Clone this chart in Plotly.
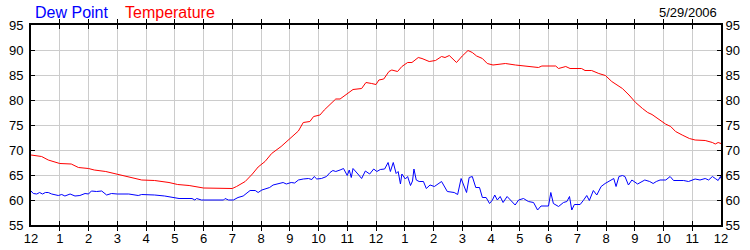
import plotly.graph_objects as go

# Hours since midnight (0 = 12 AM, 24 = next 12 AM) and readings in °F
temp_hours = [0.0, 0.37, 0.6, 1.0, 1.4, 1.65, 2.0, 2.2, 2.6, 3.0, 3.4, 3.85, 4.3, 4.8, 5.1, 5.5,
              6.0, 6.4, 7.0, 7.15, 7.45, 7.7, 7.9, 8.14, 8.37, 8.7, 9.0, 9.3, 9.47, 9.7, 9.83,
              10.05, 10.2, 10.4, 10.6, 10.75, 11.0, 11.2, 11.5, 11.65, 11.85, 12.0, 12.1, 12.27,
              12.45, 12.55, 12.75, 12.9, 13.1, 13.25, 13.47, 13.6, 13.85, 14.07, 14.28, 14.4,
              14.55, 14.8, 15.0, 15.2, 15.35, 15.5, 15.7, 15.87, 16.07, 16.5, 16.85, 17.3,
              17.65, 17.77, 18.25, 18.35, 18.6, 18.75, 19.15, 19.27, 19.5, 19.75, 19.98, 20.2,
              20.45, 20.57, 20.8, 21.03, 21.27, 21.45, 21.6, 21.85, 22.07, 22.25, 22.42, 22.65,
              22.9, 23.1, 23.45, 23.7, 23.8, 23.9, 24.0]
temp_values = [69.0, 68.7, 68.0, 67.3, 67.2, 66.5, 66.3, 66.0, 65.7, 65.2, 64.7, 64.0, 63.9, 63.5,
               63.1, 62.9, 62.4, 62.3, 62.3, 62.7, 63.7, 65.2, 66.6, 67.7, 69.3, 70.7, 72.3,
               73.8, 75.5, 75.7, 76.7, 77.0, 78.0, 79.2, 80.2, 80.2, 81.3, 82.1, 82.3, 83.5,
               83.3, 83.1, 84.0, 84.2, 85.7, 86.0, 85.7, 86.7, 87.5, 87.5, 88.5, 88.3, 87.7,
               87.9, 88.7, 88.5, 88.9, 87.5, 88.8, 89.9, 89.5, 88.8, 88.3, 87.3, 87.0, 87.3,
               87.0, 86.8, 86.5, 86.8, 86.8, 86.3, 86.7, 86.3, 86.3, 85.9, 85.9, 85.3, 84.9,
               83.7, 82.8, 82.3, 81.0, 79.5, 78.3, 77.5, 77.1, 76.1, 75.2, 74.7, 73.7, 73.0,
               72.3, 72.0, 71.9, 71.5, 71.2, 71.5, 71.3]

dew_hours = [0.0, 0.08, 0.2, 0.3, 0.4, 0.5, 0.6, 0.72, 0.95, 1.07, 1.18, 1.36, 1.53, 1.7, 1.88,
             2.0, 2.1, 2.28, 2.46, 2.63, 2.8, 3.0, 3.4, 3.6, 3.73, 3.85, 4.08, 4.3, 4.65, 4.9,
             5.15, 5.6, 5.7, 5.76, 5.93, 6.7, 6.75, 6.87, 7.04, 7.2, 7.38, 7.62, 7.8, 7.9, 8.03,
             8.14, 8.3, 8.42, 8.6, 8.77, 8.88, 9.05, 9.17, 9.3, 9.47, 9.65, 9.77, 9.85, 9.94,
             10.1, 10.28, 10.4, 10.5, 10.6, 10.75, 10.87, 11.0, 11.07, 11.14, 11.2, 11.37, 11.5,
             11.63, 11.78, 11.92, 12.03, 12.15, 12.3, 12.42, 12.5, 12.6, 12.7, 12.77, 12.85,
             12.9, 13.02, 13.1, 13.2, 13.27, 13.32, 13.4, 13.5, 13.65, 13.75, 13.88, 14.03,
             14.28, 14.48, 14.72, 14.84, 14.96, 15.04, 15.15, 15.24, 15.35, 15.47, 15.6, 15.7,
             15.83, 15.95, 16.05, 16.13, 16.22, 16.32, 16.42, 16.56, 16.69, 16.84, 16.96,
             17.13, 17.3, 17.48, 17.62, 17.74, 18.0, 18.08, 18.17, 18.35, 18.52, 18.64, 18.73,
             18.81, 18.9, 19.1, 19.21, 19.33, 19.42, 19.56, 19.68, 19.83, 19.97, 20.1, 20.27,
             20.35, 20.45, 20.57, 20.66, 20.78, 20.9, 21.1, 21.35, 21.52, 21.64, 21.75, 21.88,
             22.08, 22.23, 22.35, 22.7, 22.87, 23.1, 23.27, 23.45, 23.57, 23.7, 23.8, 23.9,
             23.98, 24.0]
dew_values = [61.8, 61.3, 61.2, 61.5, 61.2, 61.5, 61.5, 61.2, 60.9, 61.1, 60.8, 61.2, 60.8, 60.9,
              61.3, 61.2, 61.8, 61.7, 61.8, 61.0, 61.3, 61.2, 61.2, 61.0, 60.9, 61.1, 61.1, 61.0,
              60.8, 60.5, 60.3, 60.3, 60.0, 60.3, 60.0, 60.0, 60.3, 60.0, 60.0, 60.5, 60.8, 61.9,
              61.9, 61.5, 62.0, 62.2, 62.5, 63.0, 63.3, 63.5, 63.2, 63.5, 63.4, 64.0, 64.2, 64.3,
              64.1, 64.7, 64.2, 64.3, 64.7, 65.5, 65.9, 65.7, 66.0, 66.3, 64.9, 66.0, 64.5, 66.3,
              65.2, 64.3, 65.8, 65.2, 66.2, 65.7, 66.1, 66.2, 67.5, 65.7, 67.5, 65.3, 65.7, 63.2,
              65.2, 64.2, 64.7, 62.9, 63.8, 66.2, 64.0, 63.7, 63.7, 62.3, 63.0, 62.7, 63.7, 61.7,
              61.5, 61.1, 64.3, 63.0, 61.5, 64.5, 64.7, 62.5, 62.5, 60.5, 60.5, 59.3, 60.0, 61.0,
              60.0, 60.7, 59.5, 60.7, 60.0, 59.0, 60.0, 60.3, 59.7, 59.5, 58.0, 58.8, 58.8, 61.5,
              59.3, 58.7, 59.5, 59.7, 60.7, 58.0, 59.1, 59.1, 59.9, 60.9, 59.9, 61.9, 61.0, 62.7,
              63.3, 63.7, 64.3, 62.7, 64.7, 64.9, 64.7, 63.0, 64.0, 63.2, 64.0, 63.7, 63.3, 63.7,
              64.0, 64.0, 64.7, 63.9, 63.9, 63.7, 64.2, 64.0, 64.3, 64.0, 64.7, 64.3, 63.9, 64.7,
              64.3]

hour_ticks = list(range(0, 25))
hour_labels = ["12", "1", "2", "3", "4", "5", "6", "7", "8", "9", "10", "11",
               "12", "1", "2", "3", "4", "5", "6", "7", "8", "9", "10", "11", "12"]
y_ticks = [55, 60, 65, 70, 75, 80, 85, 90, 95]
date_label = "5/29/2006"

FONT = "Liberation Sans, Arial, sans-serif"

fig = go.Figure()
fig.add_trace(go.Scatter(x=temp_hours, y=temp_values, mode="lines", name="Temperature",
                         line=dict(color="#ff0000", width=1)))
fig.add_trace(go.Scatter(x=dew_hours, y=dew_values, mode="lines", name="Dew Point",
                         line=dict(color="#0000ff", width=1), yaxis="y2"))

axis_common = dict(showline=True, linecolor="black", linewidth=2, ticks="inside",
                   ticklen=4, tickcolor="black", tickwidth=1, automargin=False,
                   showgrid=True, gridcolor="#cccccc", gridwidth=1, zeroline=False,
                   tickfont=dict(family=FONT, size=13, color="black"))

fig.update_layout(
    width=750, height=250,
    margin=dict(l=31, r=29, t=25, b=25, autoexpand=False),
    paper_bgcolor="white", plot_bgcolor="white",
    showlegend=False,
    xaxis=dict(range=[0, 24], tickvals=hour_ticks, ticktext=hour_labels,
               mirror="allticks", ticklabelstandoff=0, **axis_common),
    yaxis=dict(range=[55, 95], tickvals=y_ticks, mirror="allticks",
               ticklabelstandoff=3, **axis_common),
    yaxis2=dict(range=[55, 95], tickvals=y_ticks, overlaying="y", side="right",
                showline=True, linecolor="black", linewidth=2, ticks="inside",
                ticklen=4, tickcolor="black", showgrid=False, zeroline=False,
                automargin=False,
                tickfont=dict(family=FONT, size=13, color="black")),
)

# place header texts in pixel-like paper coordinates
pw, ph = 750 - 31 - 29, 250 - 25 - 25
def px(x):
    return (x - 31) / pw
def py(y):
    return (225 - y) / ph

fig.add_annotation(text="Dew Point", x=px(33), y=py(12), xref="paper", yref="paper",
                   xanchor="left", yanchor="middle", showarrow=False,
                   font=dict(family=FONT, size=16, color="#0000ff"))
fig.add_annotation(text="Temperature", x=px(123), y=py(12), xref="paper", yref="paper",
                   xanchor="left", yanchor="middle", showarrow=False,
                   font=dict(family=FONT, size=16, color="#ff0000"))
fig.add_annotation(text=date_label, x=px(719), y=py(13), xref="paper", yref="paper",
                   xanchor="right", yanchor="middle", showarrow=False,
                   font=dict(family=FONT, size=13, color="black"))

fig.write_html("out.html")
